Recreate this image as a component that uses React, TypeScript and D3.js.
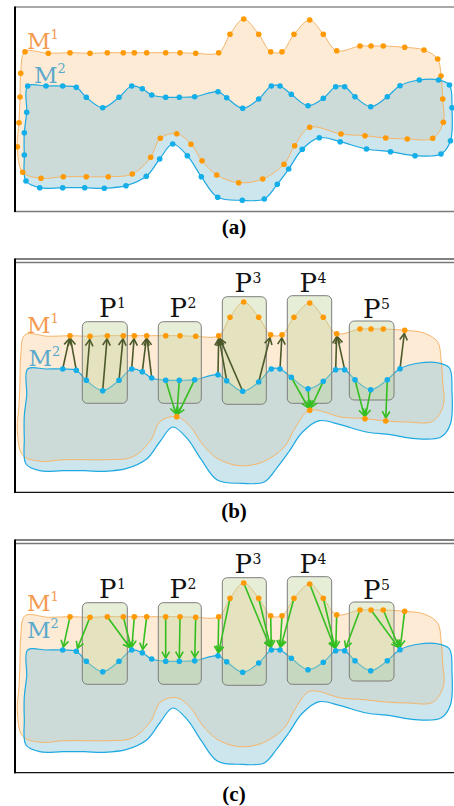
import React, { useEffect, useRef } from 'react';
import * as d3 from 'd3';

// contour samples of the two shapes in pixels
const m1Points: [number, number][] = [
  [25, 51.7], [48.3, 53.3], [70, 52.7], [90, 53.3], [107.3, 52.7], [123.3, 52.7],
  [134.3, 52.7], [146.7, 52.7], [165.7, 52.7], [180, 52.7], [195.7, 53.3], [218.7, 52.7],
  [230, 34.3], [243.7, 19], [258.7, 34.3], [270.7, 51.7], [282, 51.7], [294, 34.3],
  [309.7, 20], [323.3, 34.3], [336.7, 50.7], [360, 46], [371, 46], [383.3, 46],
  [404.7, 47.3], [424, 50], [437.7, 59], [441, 76], [442.7, 99], [443.3, 122.3],
  [432.7, 138.3], [407.3, 139], [385.7, 138], [365, 135.7], [341, 134], [309.7, 127.3],
  [294.7, 145.7], [284, 164.3], [262.7, 179], [238.7, 182.7], [216.7, 175], [202, 160.7],
  [191, 144.3], [176.7, 133.7], [160.3, 138.3], [150.7, 157.3], [132.3, 174], [108.3, 176.7],
  [86.3, 176.7], [63.3, 176.7], [41, 178.3], [22.7, 172.3], [17.3, 146.7], [19, 122.7],
  [20, 97], [20.7, 73.3]
];

const m2Points: [number, number][] = [
  [27.7, 86], [46, 86], [62.7, 86], [76.3, 87.3], [86.3, 97.3], [102.7, 107.7],
  [119, 97.3], [131.7, 86], [142.3, 88.7], [151.7, 95], [165.7, 97.3], [179.3, 97.3],
  [194.7, 96.7], [218, 91.7], [226.7, 97.7], [242.7, 108.3], [258.7, 99], [271.3, 86],
  [280, 86], [291.3, 94.3], [308, 105.7], [323.3, 98.3], [335.7, 86.7], [344.7, 86.7],
  [355, 96.7], [370.7, 106.7], [387.3, 96.7], [400, 85.7], [419.3, 80], [438.5, 80],
  [449.5, 85], [452, 107.7], [450.5, 140.7], [441, 154], [415, 155.7], [390.5, 151.7],
  [366.5, 149], [340.2, 141.7], [319.3, 137.7], [302.3, 149.3], [288.7, 169], [277.3, 184.3],
  [264.3, 199], [242.3, 200.3], [217.7, 197.3], [201.3, 176.7], [187.3, 155.7], [172.7, 144],
  [159.7, 159], [146.3, 176.3], [126, 185.7], [104.3, 188.3], [84.7, 187.7], [62.7, 187.7],
  [39.7, 187.7], [26, 181], [24.3, 155], [24.3, 132.7], [26.7, 112.3]
];

// which samples are drawn as dots in panels (b) and (c)
const m1TopShown = d3.range(2, 25);
const m1BottomShown = [32, 33, 35, 43];
const m2TopShown = d3.range(2, 28);

// panel (b): [m2 index, m1 index]
const upArrowsB: [number, number][] = [
  [2, 2], [3, 2], [4, 3], [5, 4], [6, 5], [7, 6], [8, 7], [9, 7],
  [13, 11], [14, 11], [15, 11], [16, 15], [18, 16], [22, 20], [23, 20], [27, 24]
];
const downArrowsB: [number, number][] = [
  [10, 43], [11, 43], [12, 43], [19, 35], [20, 35], [21, 35], [24, 33], [25, 33], [26, 32]
];
// panel (c): [m1 index, m2 index]
const arrowsC: [number, number][] = [
  [2, 2], [3, 3], [4, 7], [5, 7], [6, 7], [7, 8], [8, 10], [9, 11], [10, 12],
  [11, 13], [12, 13], [13, 17], [14, 17], [15, 17], [16, 18], [17, 18],
  [18, 22], [19, 22], [20, 22], [21, 23], [22, 27], [23, 27], [24, 27]
];

const partLabels = ['1', '2', '3', '4', '5'];

// layout
const W = 454, H = 806;
const partBoxes = [
  { x0: 82.3, x1: 127.3, y0: 38.7, y1: 120.3, lx: 99, ly: 33.7 },
  { x0: 158.3, x1: 201.3, y0: 38.7, y1: 120.3, lx: 169.5, ly: 33.7 },
  { x0: 222.3, x1: 266.3, y0: 13.7, y1: 121.3, lx: 234.5, ly: 9.3 },
  { x0: 287.3, x1: 331.7, y0: 12.7, y1: 120.3, lx: 299.5, ly: 8.7 },
  { x0: 349.3, x1: 394, y0: 38, y1: 117, lx: 363, ly: 35.3 }
];
const panels = [
  { name: '(a)', shift: 0, top: 7, bottom: 211.5, double: false, bottomColor: '#7a7a7a', cap: 234,
    m1: [27, 48.5], m2: [34, 83.3] },
  { name: '(b)', shift: 283, top: 259, bottom: 492.3, double: true, bottomColor: '#111', cap: 517.5,
    m1: [27, 332.5], m2: [28.5, 365.5] },
  { name: '(c)', shift: 564, top: 540, bottom: 772.7, double: true, bottomColor: '#111', cap: 800.5,
    m1: [27, 611], m2: [27, 638] }
];

const ORANGE = '#ff9a05';
const BLUE = '#14aee9';
const OLIVE = '#4c5a2a';
const GREEN = '#34be20';

export default function App() {
  const ref = useRef<SVGSVGElement>(null);

  useEffect(() => {
    const svg = d3.select(ref.current);
    svg.selectAll('*').remove();

    const x = d3.scaleLinear().domain([0, W]).range([0, W]);

    function arrow(g: any, x1: number, y1: number, x2: number, y2: number, color: string) {
      const dx = x2 - x1, dy = y2 - y1;
      const len = Math.hypot(dx, dy);
      const ux = dx / len, uy = dy / len;
      const tx = x2 - ux * 3.2, ty = y2 - uy * 3.2;
      g.append('line')
        .attr('x1', x1).attr('y1', y1).attr('x2', tx).attr('y2', ty)
        .attr('stroke', color).attr('stroke-width', 1.6);
      const hl = 6.5, hw = 3.8;
      const bx = tx - ux * hl, by = ty - uy * hl;
      g.append('path')
        .attr('d', `M${bx - uy * hw},${by + ux * hw}L${tx},${ty}L${bx + uy * hw},${by - ux * hw}`)
        .attr('fill', 'none')
        .attr('stroke', color)
        .attr('stroke-width', 1.6);
    }

    panels.forEach((p, pi) => {
      const y = d3.scaleLinear().domain([0, H]).range([p.shift, p.shift + H]);
      const g = svg.append('g');

      const contour = d3.line<[number, number]>()
        .x(d => x(d[0]))
        .y(d => y(d[1]))
        .curve(d3.curveCatmullRomClosed.alpha(0.5));

      g.append('path').attr('d', contour(m1Points)).attr('fill', '#fdebd6');
      g.append('path').attr('d', contour(m2Points)).attr('fill', '#9bcbd9').attr('fill-opacity', 0.5);
      g.append('path').attr('d', contour(m1Points)).attr('fill', 'none')
        .attr('stroke', '#f6b56a').attr('stroke-width', 1);
      g.append('path').attr('d', contour(m2Points)).attr('fill', 'none')
        .attr('stroke', '#1da9e2').attr('stroke-width', 1.2);

      if (pi > 0) {
        partBoxes.forEach((b, i) => {
          g.append('rect')
            .attr('x', x(b.x0)).attr('y', y(b.y0))
            .attr('width', x(b.x1) - x(b.x0)).attr('height', y(b.y1) - y(b.y0))
            .attr('rx', 5)
            .attr('fill', 'rgb(192,212,157)').attr('fill-opacity', 0.4)
            .attr('stroke', '#7d7d7d').attr('stroke-width', 1);
          g.append('text')
            .attr('x', x(b.lx)).attr('y', y(b.ly))
            .attr('font-family', 'DejaVu Serif').attr('font-size', 26)
            .attr('fill', '#111').text('P');
          g.append('text')
            .attr('x', x(b.lx) + 18).attr('y', y(b.ly) - 9)
            .attr('font-family', 'DejaVu Serif').attr('font-size', 14)
            .attr('fill', '#111').text(partLabels[i]);
        });
      }

      const arrows = g.append('g');
      if (pi === 1) {
        upArrowsB.forEach(([b, o]) => arrow(arrows, x(m2Points[b][0]), y(m2Points[b][1]),
          x(m1Points[o][0]), y(m1Points[o][1]), OLIVE));
        downArrowsB.forEach(([b, o]) => arrow(arrows, x(m2Points[b][0]), y(m2Points[b][1]),
          x(m1Points[o][0]), y(m1Points[o][1]), GREEN));
      }
      if (pi === 2) {
        arrowsC.forEach(([o, b]) => arrow(arrows, x(m1Points[o][0]), y(m1Points[o][1]),
          x(m2Points[b][0]), y(m2Points[b][1]), GREEN));
      }

      const m1Dots = pi === 0 ? m1Points
        : (pi === 1 ? m1TopShown.concat(m1BottomShown) : m1TopShown).map(i => m1Points[i]);
      const m2Dots = pi === 0 ? m2Points : m2TopShown.map(i => m2Points[i]);

      g.append('g').selectAll('circle').data(m1Dots).join('circle')
        .attr('cx', d => x(d[0])).attr('cy', d => y(d[1])).attr('r', 2.8).attr('fill', ORANGE);
      g.append('g').selectAll('circle').data(m2Dots).join('circle')
        .attr('cx', d => x(d[0])).attr('cy', d => y(d[1])).attr('r', 2.8).attr('fill', BLUE);

      // shape labels
      const labels = [
        { pos: p.m1, sup: '1', color: '#f49b50' },
        { pos: p.m2, sup: '2', color: '#5aa9cc' }
      ];
      labels.forEach(l => {
        svg.append('text')
          .attr('x', l.pos[0]).attr('y', l.pos[1])
          .attr('font-family', 'DejaVu Serif').attr('font-size', 23)
          .attr('fill', l.color).text('M');
        svg.append('text')
          .attr('x', l.pos[0] + 23.5).attr('y', l.pos[1] - 10)
          .attr('font-family', 'DejaVu Serif').attr('font-size', 13)
          .attr('fill', l.color).text(l.sup);
      });

      // frame
      const f = svg.append('g');
      if (p.double) {
        f.append('line').attr('x1', 15).attr('x2', W).attr('y1', p.top).attr('y2', p.top)
          .attr('stroke', '#555').attr('stroke-width', 1.3);
        f.append('line').attr('x1', 15).attr('x2', W).attr('y1', p.top + 3.5).attr('y2', p.top + 3.5)
          .attr('stroke', '#777').attr('stroke-width', 1.3);
      } else {
        f.append('line').attr('x1', 15).attr('x2', W).attr('y1', p.top).attr('y2', p.top)
          .attr('stroke', '#555').attr('stroke-width', 1.2);
      }
      f.append('line').attr('x1', 14).attr('x2', W).attr('y1', p.bottom).attr('y2', p.bottom)
        .attr('stroke', p.bottomColor).attr('stroke-width', 1.3);
      f.append('line').attr('x1', 15).attr('x2', 15).attr('y1', p.top - 0.5).attr('y2', p.bottom + 0.6)
        .attr('stroke', '#000').attr('stroke-width', 2);

      svg.append('text')
        .attr('x', 234).attr('y', p.cap)
        .attr('text-anchor', 'middle')
        .attr('font-family', 'Liberation Serif').attr('font-weight', 'bold').attr('font-size', 21)
        .attr('fill', '#000').text(p.name);
    });
  }, []);

  return (
    <svg ref={ref} width={W} height={H}
      style={{ position: 'absolute', left: 0, top: 0, background: '#fff' }} />
  );
}
